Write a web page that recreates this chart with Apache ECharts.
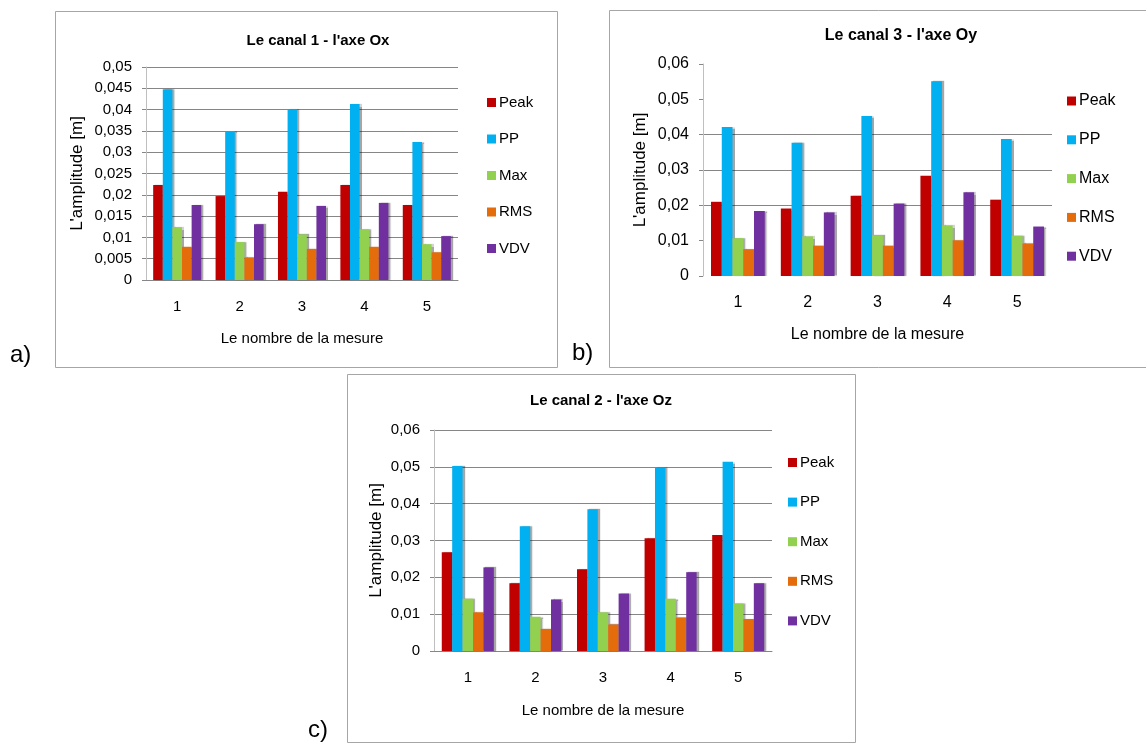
<!DOCTYPE html>
<html>
<head>
<meta charset="utf-8">
<script src="https://cdn.jsdelivr.net/npm/echarts@6/dist/echarts.min.js"></script>
<style>
html,body{margin:0;padding:0;background:#fff;}
#chart{width:1146px;height:745px;}
</style>
</head>
<body>
<div id="chart"></div>
<script>
// ---- data ----
const categories = ['1', '2', '3', '4', '5'];
const seriesNames = ['Peak', 'PP', 'Max', 'RMS', 'VDV'];
const panelTitles = ["Le canal 1 - l'axe Ox", "Le canal 3 - l'axe Oy", "Le canal 2 - l'axe Oz"];
const panelTags = ['a)', 'b)', 'c)'];
const yAxisName = "L'amplitude [m]";
const xAxisName = 'Le nombre de la mesure';

// Panel a: canal 1 - axe Ox
const peakOx = [0.0223, 0.0197, 0.0207, 0.0223, 0.0176];
const ppOx   = [0.0448, 0.0350, 0.0401, 0.0413, 0.0324];
const maxOx  = [0.0124, 0.0089, 0.0107, 0.0119, 0.0084];
const rmsOx  = [0.0078, 0.0053, 0.0073, 0.0078, 0.0065];
const vdvOx  = [0.0176, 0.0131, 0.0174, 0.0181, 0.0103];
// Panel b: canal 3 - axe Oy
const peakOy = [0.0210, 0.0191, 0.0227, 0.0284, 0.0216];
const ppOy   = [0.0422, 0.0377, 0.0453, 0.0551, 0.0388];
const maxOy  = [0.0107, 0.0112, 0.0115, 0.0143, 0.0114];
const rmsOy  = [0.0076, 0.0086, 0.0086, 0.0101, 0.0092];
const vdvOy  = [0.0184, 0.0180, 0.0205, 0.0237, 0.0140];
// Panel c: canal 2 - axe Oz
const peakOz = [0.0268, 0.0184, 0.0222, 0.0306, 0.0315];
const ppOz   = [0.0502, 0.0339, 0.0385, 0.0498, 0.0514];
const maxOz  = [0.0142, 0.0093, 0.0105, 0.0142, 0.0129];
const rmsOz  = [0.0105, 0.0060, 0.0072, 0.0091, 0.0087];
const vdvOz  = [0.0227, 0.0140, 0.0156, 0.0214, 0.0184];

const yMaxA = 0.05, yStepA = 0.005;
const yMaxBC = 0.06, yStepBC = 0.01;

// ---- styling / layout ----
const colors = ['#C00000', '#00B0F0', '#92D050', '#E46C0A', '#7030A0'];
const FONT = "'Liberation Sans', Arial, sans-serif";
const GRIDC = '#868686';
const NONE = 'rgba(0,0,0,0)';

const panels = [
  { data: [peakOx, ppOx, maxOx, rmsOx, vdvOx], max: yMaxA, step: yStepA,
    grid: { left: 146, top: 67, width: 312, height: 213 }, fs: 15, tfs: 15,
    title: { x: 318, y: 33 }, legend: { x: 487, y: 95, gap: 21.5 },
    nameGapY: 60, nameGapX: 51, frame: [55, 11, 502, 356], tag: [10, 343],
    splitColors: [GRIDC], showXLine: true },
  { data: [peakOy, ppOy, maxOy, rmsOy, vdvOy], max: yMaxBC, step: yStepBC,
    grid: { left: 703, top: 64, width: 349, height: 212 }, fs: 16, tfs: 16,
    title: { x: 901, y: 28 }, legend: { x: 1067, y: 93, gap: 22.8 },
    nameGapY: 54, nameGapX: 51, frame: [609, 10, 545, 357], tag: [572, 341],
    splitColors: [NONE, NONE, GRIDC, GRIDC, GRIDC, NONE, NONE],
    showXLine: false },
  { data: [peakOz, ppOz, maxOz, rmsOz, vdvOz], max: yMaxBC, step: yStepBC,
    grid: { left: 434, top: 430, width: 338, height: 221 }, fs: 15, tfs: 15,
    title: { x: 601, y: 393 }, legend: { x: 788, y: 455, gap: 24.6 },
    nameGapY: 49, nameGapX: 52, frame: [347, 374, 508, 368], tag: [308, 718],
    splitColors: [GRIDC], showXLine: true }
];

const fmt = v => (+v.toFixed(4)).toString().replace('.', ',');

const option = {
  backgroundColor: '#ffffff',
  animation: false,
  textStyle: { fontFamily: FONT, color: '#000' },
  title: [], legend: [], grid: [], xAxis: [], yAxis: [], series: [], graphic: []
};

panels.forEach((p, i) => {
  option.graphic.push({
    type: 'rect', left: p.frame[0], top: p.frame[1], z: -10, silent: true,
    shape: { width: p.frame[2], height: p.frame[3] },
    style: { fill: '#fff', stroke: '#A6A6A6', lineWidth: 1 }
  });
  option.graphic.push({
    type: 'text', left: p.tag[0], top: p.tag[1], silent: true,
    style: { text: panelTags[i], font: "24px " + FONT, fill: '#000' }
  });
  option.title.push({
    text: panelTitles[i], left: p.title.x, top: p.title.y, textAlign: 'center', padding: 0,
    textStyle: { fontFamily: FONT, fontSize: p.tfs, fontWeight: 'bold', color: '#000' }
  });
  option.legend.push({
    data: seriesNames, orient: 'vertical', left: p.legend.x, top: p.legend.y, padding: 0,
    itemWidth: 9, itemHeight: 9, itemGap: p.legend.gap, icon: 'rect',
    selectedMode: false,
    textStyle: { fontFamily: FONT, fontSize: p.fs, color: '#000', padding: [0, 0, 0, -2] }
  });
  option.grid.push(Object.assign({ containLabel: false }, p.grid));
  option.xAxis.push({
    type: 'category', gridIndex: i, data: categories,
    name: xAxisName, nameLocation: 'middle', nameGap: p.nameGapX,
    nameTextStyle: { fontFamily: FONT, fontSize: p.fs, color: '#000' },
    axisLine: { show: p.showXLine, lineStyle: { color: GRIDC, width: 1 } },
    axisTick: { show: false },
    axisLabel: { fontFamily: FONT, fontSize: p.fs, color: '#000', margin: 19 }
  });
  option.yAxis.push({
    type: 'value', gridIndex: i, min: 0, max: p.max, interval: p.step,
    name: yAxisName, nameLocation: 'middle', nameGap: p.nameGapY,
    nameTextStyle: { fontFamily: FONT, fontSize: 17, color: '#000' },
    axisLine: { show: true, lineStyle: { color: '#BFBFBF', width: 1 } },
    axisTick: { show: true, length: 4, lineStyle: { color: GRIDC } },
    splitLine: { show: true, lineStyle: { color: p.splitColors, width: 1 } },
    axisLabel: { fontFamily: FONT, fontSize: p.fs, color: '#000', margin: 14, formatter: fmt }
  });
  p.data.forEach((arr, k) => {
    option.series.push({
      type: 'bar', name: seriesNames[k], xAxisIndex: i, yAxisIndex: i,
      data: arr, barGap: '0%', barCategoryGap: '23%',
      itemStyle: {
        color: colors[k],
        shadowColor: 'rgba(0,0,0,0.35)', shadowOffsetX: 2, shadowOffsetY: 0, shadowBlur: 1
      }
    });
  });
});

const chart = echarts.init(document.getElementById('chart'), null, { renderer: 'canvas' });
chart.setOption(option);
</script>
</body>
</html>
